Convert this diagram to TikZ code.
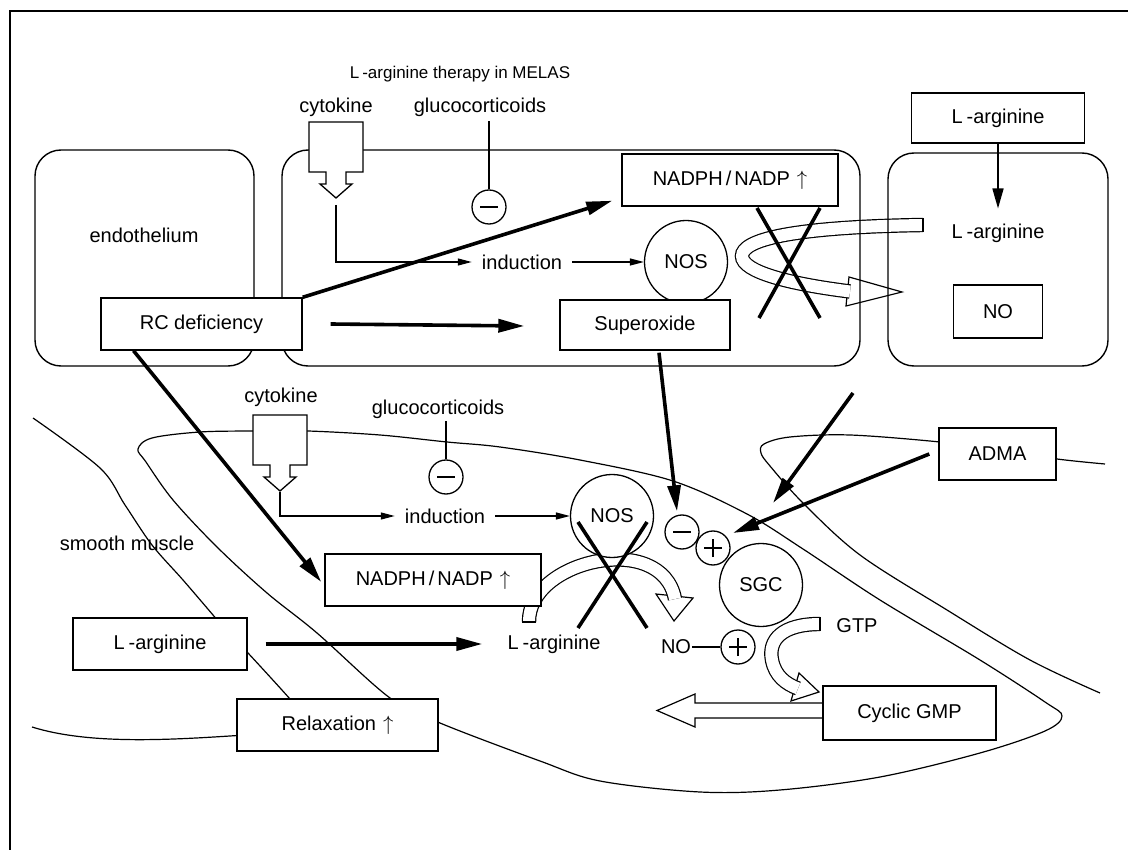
\documentclass[tikz,border=0pt]{standalone}
\usepackage{fontspec}
\setmainfont{Liberation Sans}
\usetikzlibrary{arrows.meta}
\begin{document}
\begin{tikzpicture}[x=1pt,y=-1pt,
  font=\fontsize{20}{24}\selectfont,
  lw/.style={line width=1.3pt},
  cell/.style={draw, line width=1.4pt, rounded corners=26pt},
  membrane/.style={draw, line width=1.2pt},
  box/.style={draw, line width=1.4pt, fill=white, inner sep=0pt},
  lbl/.style={inner sep=1pt},
  ind/.style={inner ysep=1pt, inner xsep=10pt},
  bigarr/.style={line width=3.6pt, -{Triangle[length=26pt,width=13pt]}},
  medarr/.style={line width=1.6pt, -{Triangle[length=20pt,width=11pt]}},
  smallarr/.style={line width=1.3pt, -{Triangle[length=14pt,width=7pt]}},
  xline/.style={line width=3.6pt},
  band/.style={draw, line width=1.2pt, double=white, double distance=12pt},
  headtri/.style={draw, line width=1.2pt, fill=white, line join=miter},
  enzyme/.style={draw, circle, line width=1.3pt, fill=white, minimum size=83pt, inner sep=0pt},
  minussign/.style={draw, circle, line width=1.3pt, fill=white, minimum size=34pt, inner sep=0pt,
    path picture={\draw[line width=1.4pt] ([xshift=-9pt]path picture bounding box.center) -- ([xshift=9pt]path picture bounding box.center);}},
  plussign/.style={draw, circle, line width=1.3pt, fill=white, minimum size=34pt, inner sep=0pt,
    path picture={\draw[line width=1.4pt] ([xshift=-9pt]path picture bounding box.center) -- ([xshift=9pt]path picture bounding box.center);
                  \draw[line width=1.4pt] ([yshift=-9pt]path picture bounding box.center) -- ([yshift=9pt]path picture bounding box.center);}},
  cytoshape/.pic={\draw[line width=1.3pt, fill=white] (-27,0)--(27,0)--(27,50)--(10,50)--(10,62)--(16,62)--(0,76)--(-16,62)--(-10,62)--(-10,50)--(-27,50)--cycle;}
]
\useasboundingbox (0,0) rectangle (1128,850);

% frame
\draw[line width=1.4pt] (1128,11) -- (10,11) -- (10,850);

% title
\node[lbl, font=\fontsize{17}{20}\selectfont] (title) at (460,74) {L\kern3pt-arginine therapy in MELAS};

% ---------- hollow arrows (drawn first) ----------
% top loop L-arginine -> NO
\draw[headtri] (849,277) -- (902,292) -- (846,306) -- cycle;
\draw[band] (923,225) .. controls (790,227) and (742,240) .. (742,256) .. controls (742,272) and (790,284) .. (850,291.5);
\draw[lw] (923,217.8) -- (923,232.2);
% bottom arc
\draw[headtri] (656,594) -- (693,598) -- (674,621) -- cycle;
\draw[band] (529,622) .. controls (528,560) and (662,530) .. (675,599);
\draw[lw] (522,622) -- (536,622);
% GTP -> cyclic GMP
\draw[headtri] (799,673) -- (819,692) -- (791,701) -- cycle;
\draw[band] (820,624) .. controls (782,624) and (768,640) .. (772,660) .. controls (775,676) and (786,684) .. (798,688.5);
\draw[lw] (820,616.8) -- (820,631.2);
% cyclic GMP -> relaxation (big left arrow)
\draw[headtri] (830,703) -- (695,703) -- (695,694) -- (657,710.5) -- (695,727) -- (695,718) -- (830,718);

% ---------- cell outlines (smooth muscle) ----------
\draw[membrane] plot[smooth cycle, tension=0.55] coordinates {
  (138,449) (152,438) (200,432) (255,431) (308,431) (380,435) (447,442) (500,447) (580,460) (673,481)
  (747,514) (803,549) (880,600) (980,660) (1045,702) (1062,716)
  (1045,731) (980,753) (880,777) (780,790) (700,792) (600,781) (540,761) (440,723) (390,698)
  (317,633) (267,593) (217,547) (173,500) (146,462)};
\draw[membrane] plot[smooth, tension=0.55] coordinates {
  (1105,464) (1057,459) (1000,450) (940,442) (850,435) (790,437) (764,444) (761,453) (770,466)
  (803,503) (860,555) (947,610) (1030,660) (1100,693)};
\draw[membrane] plot[smooth, tension=0.55] coordinates {
  (33,418) (100,468) (125,505) (152,545) (183,580) (213,615) (230,635) (248,653) (290,699) (300,712)};
\draw[membrane] (32,727) .. controls (90,745) and (170,740) .. (245,735);

% ---------- endothelium cells ----------
\draw[cell] (35,150) rectangle (254,366);
\draw[cell] (282,150) rectangle (860,366);
\draw[cell] (888,153) rectangle (1108,366);

% cytokine symbols
\pic at (336,122) {cytoshape};
\pic at (280,415) {cytoshape};

% ---------- top (endothelium) ----------
\node[lbl] (cyt1) at (336,107) {cytokine};
\node[lbl] (glu1) at (480,107) {glucocorticoids};
\node[lbl] (endo) at (144,235) {endothelium};
\node[minussign] (m1) at (489,207) {};
\draw[lw] (m1.north) -- ++(0,-68);
\node[ind] (ind1) at (522,262) {induction};
\node[enzyme] (nos1) at (686,262) {NOS};
\node[box, minimum width=216pt, minimum height=52pt] (nadph1) at (730,180) {NADPH\kern3pt/\kern3pt NADP\kern7pt$\uparrow$};
\node[box, minimum width=170pt, minimum height=50pt] (sup) at (645,325) {Superoxide};
\node[box, minimum width=201pt, minimum height=52pt] (rc) at (201.5,324) {RC deficiency};
\node[box, minimum width=173pt, minimum height=50pt] (larg0) at (998,118) {L\kern4pt-arginine};
\node[lbl] (larg1) at (998,233) {L\kern4pt-arginine};
\node[box, minimum width=89pt, minimum height=53pt] (no1) at (998,311.5) {NO};

\draw[smallarr] (336,205) |- (ind1.west);
\draw[smallarr] (ind1.east) -- (nos1.west);
\draw[medarr, shorten >=14pt] (larg0.south) -- (larg1.north);
\draw[bigarr] (rc.north east) -- ([xshift=-9pt,yshift=6pt]nadph1.south west);
\draw[bigarr] ([xshift=28pt]rc.east) -- ([xshift=-35pt,yshift=-1pt]sup.west);

\draw[xline] (757,208) -- (820,318);
\draw[xline] (820,208) -- (759,318);

% ---------- bottom (smooth muscle) ----------
\node[lbl] (cyt2) at (281,397) {cytokine};
\node[lbl] (glu2) at (438,409) {glucocorticoids};
\node[lbl] (smooth) at (127,543) {smooth muscle};
\node[minussign] (m2) at (446,477) {};
\draw[lw] (m2.north) -- ++(0,-38);
\node[ind] (ind2) at (445,516) {induction};
\node[enzyme] (nos2) at (612,516) {NOS};
\node[box, minimum width=216pt, minimum height=52pt] (nadph2) at (433,580) {NADPH\kern3pt/\kern3pt NADP\kern7pt$\uparrow$};
\node[box, minimum width=174pt, minimum height=52pt] (larg2) at (160,644) {L\kern4pt-arginine};
\node[lbl] (larg3) at (554,644) {L\kern4pt-arginine};
\node[box, minimum width=201pt, minimum height=52pt] (relax) at (337.5,725) {Relaxation\kern7pt$\uparrow$};
\node[box, minimum width=117pt, minimum height=52pt] (adma) at (997.5,454) {ADMA};
\node[box, minimum width=173pt, minimum height=54pt] (cgmp) at (909.5,713) {Cyclic GMP};
\node[minussign] (ms) at (682,532) {};
\node[plussign] (pa) at (713,548) {};
\node[enzyme] (sgc) at (761,585) {SGC};
\node[lbl] (no2) at (676,647) {NO};
\node[plussign] (pn) at (738,647) {};
\node[lbl] (gtp) at (857,626) {GTP};
\coordinate (nofree) at (853,393);

\draw[smallarr] (280,492) |- (ind2.west);
\draw[smallarr] (ind2.east) -- (nos2.west);
\draw[lw] (no2.east) -- (pn.west);
\draw[bigarr] ([xshift=-68pt]rc.south) -- ([xshift=-3pt,yshift=-2pt]nadph2.west);
\draw[bigarr] ([xshift=18pt]larg2.east) -- ([xshift=-24pt]larg3.west);
\draw[bigarr] ([xshift=14pt,yshift=-2pt]sup.south) -- ([xshift=-5pt,yshift=3pt]ms.north);
\draw[bigarr] ([xshift=-9pt]adma.west) -- ([xshift=20pt,yshift=15pt]pa.center);
\draw[bigarr] (nofree) -- ([xshift=60pt,yshift=45pt]pa.center);

\draw[xline] (578,522) -- (647,628);
\draw[xline] (647,522) -- (578,628);
\end{tikzpicture}
\end{document}
